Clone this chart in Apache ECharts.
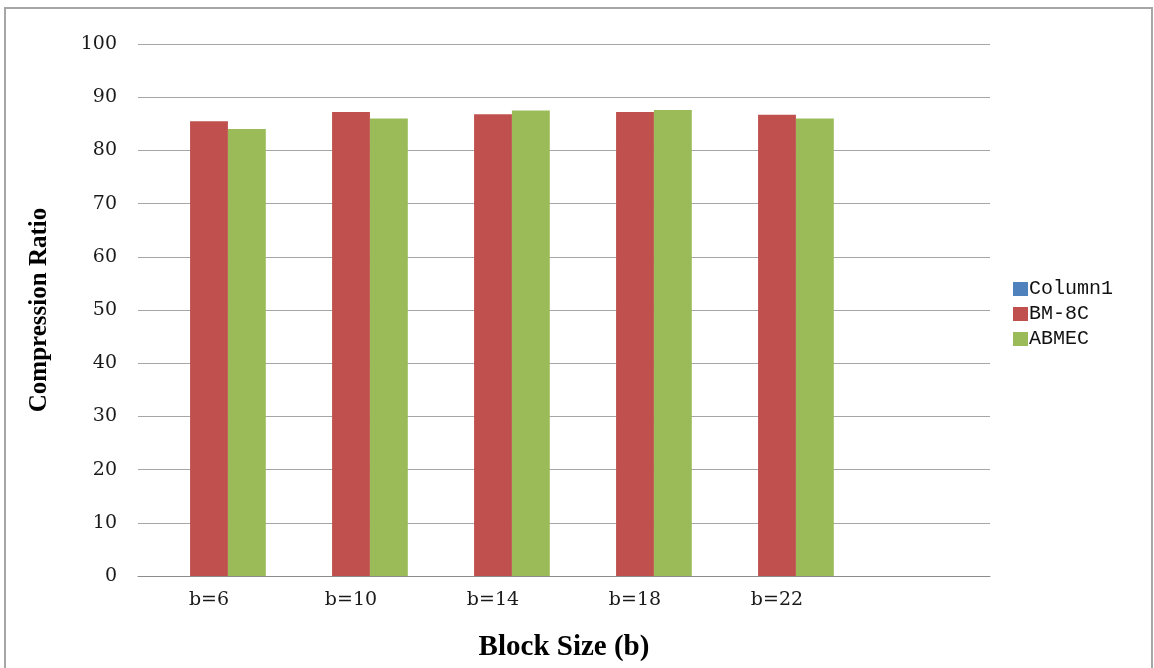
<!DOCTYPE html>
<html>
<head>
<meta charset="utf-8">
<script src="https://cdn.jsdelivr.net/npm/echarts@6/dist/echarts.min.js"></script>
<style>
  html, body { margin: 0; padding: 0; background: #ffffff; }
  #chart { width: 1154px; height: 668px; }
</style>
</head>
<body>
<div id="chart"></div>
<script>
// Block sizes on the x axis (last slot left empty)
const categories = ['b=6', 'b=10', 'b=14', 'b=18', 'b=22', ''];
// Compression ratio per block size
const column1 = [null, null, null, null, null];
const bm8c = [85.5, 87.2, 86.8, 87.2, 86.7];
const abmec = [84.0, 86.0, 87.5, 87.6, 86.0];

const seriesNames = ['Column1', 'BM-8C', 'ABMEC'];
const seriesColors = ['#4F81BD', '#C0504D', '#9BBB59'];
const seriesData = [column1, bm8c, abmec];

const tickFont = 'DejaVu Serif';
const titleFont = 'Liberation Serif';

const chart = echarts.init(document.getElementById('chart'), null, { renderer: 'canvas' });

chart.setOption({
  backgroundColor: '#ffffff',
  animation: false,
  graphic: [{
    type: 'rect',
    shape: { x: 5, y: 8, width: 1147, height: 700 },
    style: { fill: 'none', stroke: '#A6A6A6', lineWidth: 2 },
    silent: true
  }],
  grid: { left: 138, top: 44, width: 852, height: 532, containLabel: false, outerBoundsMode: 'none' },
  legend: {
    orient: 'vertical',
    left: 1008,
    top: 274,
    itemWidth: 15,
    itemHeight: 14,
    itemGap: 5,
    icon: 'rect',
    data: seriesNames,
    textStyle: { fontFamily: 'Liberation Mono', fontSize: 20, color: '#111', padding: [0, 0, 0, -4] }
  },
  xAxis: {
    type: 'category',
    data: categories,
    name: 'Block Size (b)',
    nameLocation: 'middle',
    nameGap: 57,
    nameTextStyle: { fontFamily: titleFont, fontWeight: 'bold', fontSize: 29, color: '#000' },
    axisLine: { lineStyle: { color: '#8C8C8C', width: 1 } },
    axisTick: { show: false },
    axisLabel: { fontFamily: tickFont, fontSize: 19, color: '#1a1a1a', margin: 15 },
    splitLine: { show: false }
  },
  yAxis: {
    type: 'value',
    min: 0,
    max: 100,
    interval: 10,
    name: 'Compression Ratio',
    nameLocation: 'middle',
    nameGap: 86,
    nameRotate: 90,
    nameTextStyle: { fontFamily: titleFont, fontWeight: 'bold', fontSize: 25, color: '#000' },
    axisLine: { show: false },
    axisTick: { show: false },
    axisLabel: { fontFamily: tickFont, fontSize: 19, color: '#1a1a1a', margin: 21 },
    splitLine: { lineStyle: { color: '#A6A6A6', width: 1 } }
  },
  series: seriesNames.map((name, i) => ({
    name: name,
    type: 'bar',
    data: seriesData[i],
    barGap: '0%',
    barCategoryGap: '20%',
    itemStyle: { color: seriesColors[i] }
  }))
});
</script>
</body>
</html>
